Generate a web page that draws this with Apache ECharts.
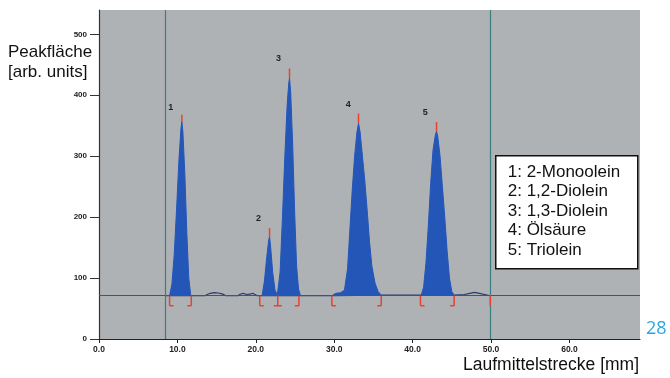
<!DOCTYPE html>
<html>
<head>
<meta charset="utf-8">
<script src="https://cdn.jsdelivr.net/npm/echarts@6/dist/echarts.min.js"></script>
<style>
  html, body { margin: 0; padding: 0; background: #fff; }
  #chart { width: 670px; height: 378px; }
</style>
</head>
<body>
<div id="chart"></div>
<script>
const baseline = 71;
const startLine = 8.5;
const frontLine = 49.9;

const peak1 = [[9.0,71],[9.3,90],[9.6,140],[9.9,215],[10.2,295],[10.45,345],[10.57,357],[10.7,340],[10.95,270],[11.2,175],[11.45,100],[11.7,72]];
const peak2 = [[20.8,71],[21.1,95],[21.4,135],[21.65,163],[21.75,168],[21.9,150],[22.15,110],[22.45,80],[22.75,73]];
const peak3 = [[22.75,73],[23.1,110],[23.4,200],[23.7,300],[24.0,385],[24.2,420],[24.3,428],[24.45,405],[24.7,320],[24.95,210],[25.2,120],[25.45,82],[25.7,71]];
const peak4 = [[29.8,72],[30.2,75],[30.8,76],[31.3,80],[31.7,115],[32.0,180],[32.3,245],[32.6,300],[32.9,340],[33.1,354],[33.3,340],[33.6,300],[33.9,260],[34.2,212],[34.5,160],[34.8,120],[35.2,92],[35.6,78],[36.0,72]];
const peak5 = [[41.1,72],[41.4,85],[41.7,125],[42.0,185],[42.3,255],[42.6,310],[42.9,335],[43.05,341],[43.2,333],[43.5,300],[43.8,250],[44.1,200],[44.4,145],[44.7,100],[45.0,78],[45.3,72]];
const peaks = [peak1, peak2, peak3, peak4, peak5];

// Spur zwischen den Peaks (kleine Wellen)
const trace = [[8.5,71],[13.5,71],[13.8,73],[14.2,75],[14.7,76],[15.2,75.5],[15.7,74],[16.2,71],
  [17.7,71],[18.0,73.5],[18.4,75],[18.8,73],[19.2,73.5],[19.6,75],[19.9,73],[20.2,71],
  [20.8,71],[25.7,71],[29.8,71],[36.0,72],[41.1,72],[45.3,72],[46.6,73],[47.3,75],[47.9,76.5],[48.5,75],[49.2,73],[49.9,71]];

// rote Spitzenmarken: [x, von, bis]
const apexTicks = [[10.57,357,368],[21.75,168,182],[24.3,428,444],[33.1,354,370],[43.05,341,356]];
// Integrationsgrenzen: [x, Fuss] 1 = rechts, -1 = links, 0 = beide, 2 = keiner
const bounds = [[9.0,1],[11.77,-1],[20.5,1],[22.8,0],[25.5,-1],[29.7,1],[36.0,-1],[41.0,1],[45.3,-1],[49.9,2]];
// Peaknummern: [x, y]
const peakNames = ['1','2','3','4','5'];
const labelPos = [[9.15,380],[20.35,197],[22.9,461],[31.8,385],[41.6,372]];

const xTicks = [0,10,20,30,40,50,60];
const yTicks = [0,100,200,300,400,500];
const legendLines = ['1: 2-Monoolein','2: 1,2-Diolein','3: 1,3-Diolein','4: Ölsäure','5: Triolein'];

const font = 'Liberation Sans, Arial, sans-serif';
const chart = echarts.init(document.getElementById('chart'));

const peakSeries = peaks.map(function (p, i) {
  return {
    name: 'Peak ' + (i + 1),
    type: 'line',
    data: p,
    symbol: 'none',
    smooth: false,
    z: 3,
    lineStyle: { color: '#2456b8', width: 1 },
    areaStyle: { color: '#2456b8', opacity: 1, origin: baseline }
  };
});

const option = {
  animation: false,
  grid: {
    left: 99, right: 30, top: 10, bottom: 39,
    show: true, backgroundColor: '#aeb2b5', borderWidth: 0
  },
  xAxis: {
    type: 'value', min: 0, max: 69, interval: 10,
    splitLine: { show: false },
    axisLine: { lineStyle: { color: '#222', width: 1.2 } },
    axisTick: { length: 4, lineStyle: { color: '#222' }, customValues: xTicks },
    axisLabel: {
      customValues: xTicks,
      color: '#222', fontSize: 8.5, fontWeight: 'bold', fontFamily: font, margin: 6,
      formatter: function (v) { return v.toFixed(1); }
    }
  },
  yAxis: {
    type: 'value', min: 0, max: 540, interval: 100,
    splitLine: { show: false },
    axisLine: { show: true, lineStyle: { color: '#333', width: 1.2 } },
    axisTick: { show: true, length: 9, lineStyle: { color: '#333' }, customValues: yTicks },
    axisLabel: {
      customValues: yTicks,
      color: '#222', fontSize: 8, fontWeight: 'bold', fontFamily: font, margin: 12
    }
  },
  series: [
    {
      name: 'Spur',
      type: 'line',
      data: trace,
      symbol: 'none',
      z: 2,
      lineStyle: { color: '#2b3a70', width: 1.2 },
      markLine: {
        silent: true, symbol: 'none', label: { show: false },
        data: [
          { yAxis: baseline, lineStyle: { color: '#4a4e78', width: 1.2, type: 'solid' } },
          { xAxis: startLine, lineStyle: { color: '#3b7d80', width: 1.2, type: 'solid' } },
          { xAxis: frontLine, lineStyle: { color: '#3b7d80', width: 1.2, type: 'solid' } }
        ]
      }
    }
  ].concat(peakSeries).concat([
    {
      name: 'Spitzen',
      type: 'custom',
      data: apexTicks,
      z: 5,
      renderItem: function (params, api) {
        const a = api.coord([api.value(0), api.value(1)]);
        const b = api.coord([api.value(0), api.value(2)]);
        return { type: 'line', shape: { x1: a[0], y1: a[1], x2: b[0], y2: b[1] },
          style: { stroke: '#e8412f', lineWidth: 1.5 } };
      }
    },
    {
      name: 'Grenzen',
      type: 'custom',
      data: bounds,
      z: 5,
      renderItem: function (params, api) {
        const p = api.coord([api.value(0), baseline]);
        const foot = api.value(1);
        const d = 10, w = 4;
        const kids = [{ type: 'line', shape: { x1: p[0], y1: p[1], x2: p[0], y2: p[1] + d },
          style: { stroke: '#e8412f', lineWidth: 1.5 } }];
        if (foot !== 2) {
          const x1 = foot === 1 ? p[0] : p[0] - w;
          const x2 = foot === -1 ? p[0] : p[0] + w;
          kids.push({ type: 'line', shape: { x1: x1, y1: p[1] + d, x2: x2, y2: p[1] + d },
            style: { stroke: '#e8412f', lineWidth: 1.5 } });
        }
        return { type: 'group', children: kids };
      }
    },
    {
      name: 'Nummern',
      type: 'custom',
      data: labelPos,
      z: 6,
      renderItem: function (params, api) {
        const p = api.coord([api.value(0), api.value(1)]);
        return { type: 'text', x: p[0], y: p[1],
          style: { text: peakNames[params.dataIndex], fill: '#222', font: 'bold 9px ' + font,
            align: 'center', verticalAlign: 'middle' } };
      }
    }
  ]),
  graphic: [
    { type: 'text', left: 8, top: 42,
      style: { text: 'Peakfläche\n[arb. units]', fill: '#111', font: '17px ' + font, lineHeight: 20 } },
    { type: 'text', left: 463, top: 356,
      style: { text: 'Laufmittelstrecke [mm]', fill: '#111', font: '17.5px ' + font } },
    { type: 'text', left: 646, top: 320,
      style: { text: '28', fill: '#2aa6e0', font: '18px Open Sans, sans-serif' } },
    { type: 'group', left: 495, top: 155, children: [
      { type: 'rect', shape: { x: 0, y: 0, width: 142, height: 113 },
        style: { fill: '#fff', stroke: '#111', lineWidth: 1.5 } }
    ].concat(legendLines.map(function (t, i) {
      return { type: 'text', x: 12, y: 8 + i * 19.5,
        style: { text: t, fill: '#111', font: '17px ' + font } };
    })) }
  ]
};

chart.setOption(option);
window.onresize = function () { chart.resize(); };
</script>
</body>
</html>
